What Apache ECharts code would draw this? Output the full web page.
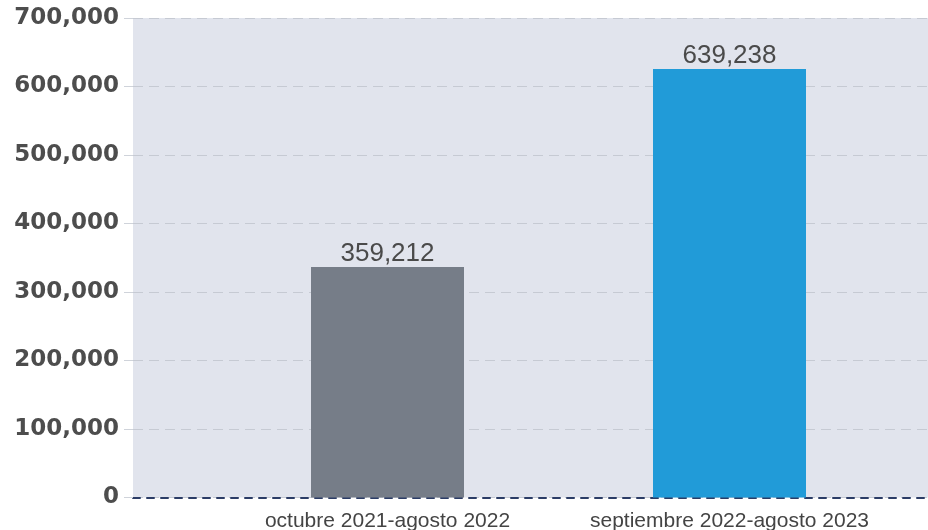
<!DOCTYPE html>
<html><head><meta charset="utf-8">
<script src="https://cdn.jsdelivr.net/npm/echarts@6/dist/echarts.min.js"></script>
<style>html,body{margin:0;padding:0;background:#fff}#c{width:928px;height:530px}</style>
</head><body><div id="c"></div>
<script>
const categories = ['octubre 2021-agosto 2022', 'septiembre 2022-agosto 2023'];
const barValues = [336500, 625400];
const valueLabels = ['359,212', '639,238'];
const barColors = ['#767d88', '#219bd8'];
const yTicks = [0, 100000, 200000, 300000, 400000, 500000, 600000, 700000];

const chart = echarts.init(document.getElementById('c'), null, {renderer: 'canvas'});
const fmt = v => v.toLocaleString('en-US');
chart.setOption({
  animation: false,
  textStyle: {fontFamily: 'Liberation Sans'},
  grid: [
    {left: 133, right: 0, top: 18, bottom: 32.5, show: true, backgroundColor: '#e1e4ed', borderWidth: 0, outerBoundsMode: 'none', containLabel: false},
    {left: 216.5, right: 27.5, top: 18, bottom: 32.5, outerBoundsMode: 'none', containLabel: false}
  ],
  xAxis: [
    {gridIndex: 0, type: 'value', min: 0, max: 1, axisLabel: {show: false}, axisTick: {show: false}, splitLine: {show: false},
     axisLine: {show: true, lineStyle: {color: '#2b3c66', width: 2, type: [7, 7]}}},
    {gridIndex: 1, type: 'category', data: categories, axisLine: {show: false}, axisTick: {show: false},
     axisLabel: {interval: 0, fontSize: 21, color: '#444', margin: 13, fontFamily: 'Liberation Sans'}}
  ],
  yAxis: [
    {gridIndex: 0, type: 'value', min: yTicks[0], max: yTicks[yTicks.length - 1], interval: 100000,
     axisLine: {show: false},
     axisTick: {show: true, length: 9, lineStyle: {color: '#cfd3da'}},
     axisLabel: {fontSize: 23, fontWeight: 'bold', color: '#4d4d4d', margin: 14, fontFamily: 'DejaVu Sans', formatter: fmt},
     splitLine: {show: true, lineStyle: {color: '#c6cad3', width: 1, type: [10, 6]}}},
    {gridIndex: 1, type: 'value', min: yTicks[0], max: yTicks[yTicks.length - 1], show: false, splitLine: {show: false}}
  ],
  series: [{
    type: 'bar', xAxisIndex: 1, yAxisIndex: 1, barWidth: 153,
    data: barValues.map((v, i) => ({value: v, itemStyle: {color: barColors[i]}})),
    label: {show: true, position: 'top', distance: 0, fontSize: 26, color: '#4a4a4a', fontFamily: 'Liberation Sans',
      formatter: p => valueLabels[p.dataIndex]},
    z: 3
  }]
});
</script></body></html>
